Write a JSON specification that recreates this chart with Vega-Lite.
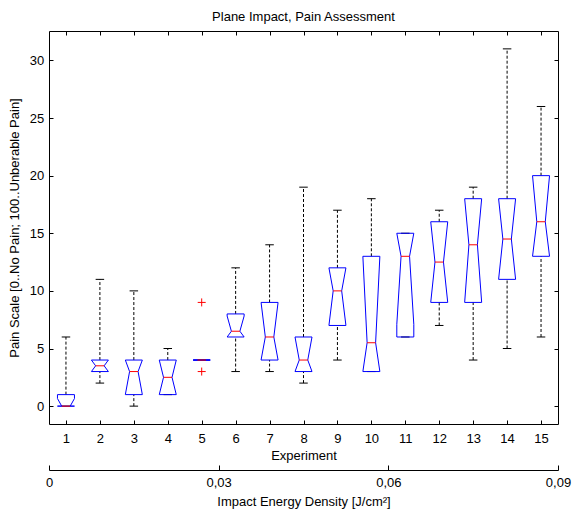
{
  "$schema": "https://vega.github.io/schema/vega-lite/v6.json",
  "width": 509,
  "height": 393,
  "autosize": {"type": "none"},
  "padding": {"left": 49, "top": 31, "right": 16, "bottom": 89},
  "background": "white",
  "title": {"text": "Plane Impact, Pain Assessment", "font": "Liberation Sans", "fontSize": 13, "fontWeight": "normal", "color": "#000", "anchor": "middle", "baseline": "alphabetic", "offset": -3.3},
  "config": {
    "view": {"stroke": "#000", "strokeWidth": 1},
    "axis": {"labelFont": "Liberation Sans", "labelFontSize": 13, "labelColor": "#000", "titleFont": "Liberation Sans", "titleFontSize": 13, "titleFontWeight": "normal", "titleColor": "#000", "tickColor": "#000", "domainColor": "#000", "grid": false, "labelFlush": false, "labelOverlap": false}
  },
  "datasets": {
    "boxes": [
      {"exp": 1, "lo": 0, "q1": 0, "med": 0, "q3": 1, "hi": 6, "nlo": 0, "nhi": 0.66},
      {"exp": 2, "lo": 2, "q1": 3, "med": 3.5, "q3": 4, "hi": 11, "nlo": 3, "nhi": 4},
      {"exp": 3, "lo": 0, "q1": 1, "med": 3, "q3": 4, "hi": 10, "nlo": 1, "nhi": 4},
      {"exp": 4, "lo": 1, "q1": 1, "med": 2.5, "q3": 4, "hi": 5, "nlo": 1, "nhi": 4},
      {"exp": 5, "lo": 4, "q1": 4, "med": 4, "q3": 4, "hi": 4, "nlo": 4, "nhi": 4},
      {"exp": 6, "lo": 3, "q1": 6, "med": 6.5, "q3": 8, "hi": 12, "nlo": 6, "nhi": 7.82},
      {"exp": 7, "lo": 3, "q1": 4, "med": 6, "q3": 9, "hi": 14, "nlo": 4, "nhi": 9},
      {"exp": 8, "lo": 2, "q1": 3, "med": 4, "q3": 6, "hi": 19, "nlo": 3, "nhi": 6},
      {"exp": 9, "lo": 4, "q1": 7, "med": 10, "q3": 12, "hi": 17, "nlo": 7, "nhi": 12},
      {"exp": 10, "lo": 3, "q1": 3, "med": 5.5, "q3": 13, "hi": 18, "nlo": 3, "nhi": 13},
      {"exp": 11, "lo": 6, "q1": 6, "med": 13, "q3": 15, "hi": 15, "nlo": 7.1, "nhi": 15},
      {"exp": 12, "lo": 7, "q1": 9, "med": 12.5, "q3": 16, "hi": 17, "nlo": 9, "nhi": 16},
      {"exp": 13, "lo": 4, "q1": 9, "med": 14, "q3": 18, "hi": 19, "nlo": 9, "nhi": 18},
      {"exp": 14, "lo": 5, "q1": 11, "med": 14.5, "q3": 18, "hi": 31, "nlo": 11, "nhi": 18},
      {"exp": 15, "lo": 6, "q1": 13, "med": 16, "q3": 20, "hi": 26, "nlo": 13, "nhi": 20}
    ],
    "outliers": [
      {"exp": 5, "v": 9},
      {"exp": 5, "v": 3}
    ],
    "energy": [
      {"e": 0},
      {"e": 0.09}
    ]
  },
  "resolve": {"scale": {"x": "independent"}, "axis": {"x": "independent"}},
  "layer": [
    {
      "data": {"name": "boxes"},
      "resolve": {"axis": {"x": "independent", "y": "independent"}},
      "encoding": {
        "x": {"field": "exp", "type": "quantitative", "scale": {"domain": [0.5, 15.5], "nice": false, "zero": false}, "axis": null}
      },
      "layer": [
        {
          "mark": {"type": "rule", "color": "#000", "strokeWidth": 1, "strokeDash": [3, 2]},
          "encoding": {
            "x": {"field": "exp", "type": "quantitative", "scale": {"domain": [0.5, 15.5], "nice": false, "zero": false},
              "axis": {"orient": "bottom", "values": [1,2,3,4,5,6,7,8,9,10,11,12,13,14,15], "format": "d", "tickSize": -4, "labelPadding": 12.5, "domain": false, "title": "Experiment", "titlePadding": 4}},
            "y": {"field": "q3", "type": "quantitative", "scale": {"domain": [-1.55, 32.55], "nice": false, "zero": false},
              "axis": {"orient": "left", "values": [0,5,10,15,20,25,30], "format": "d", "tickSize": -4, "labelPadding": 9.3, "domain": false, "title": "Pain Scale [0..No Pain; 100..Unberable Pain]", "titlePadding": 8}},
            "y2": {"field": "hi"}
          }
        },
        {
          "mark": {"type": "rule", "color": "#000", "strokeWidth": 1, "strokeDash": [3, 2]},
          "encoding": {
            "x": {"field": "exp", "type": "quantitative", "scale": {"domain": [0.5, 15.5], "nice": false, "zero": false},
              "axis": {"orient": "top", "values": [1,2,3,4,5,6,7,8,9,10,11,12,13,14,15], "tickSize": -4, "labels": false, "domain": false, "title": null}},
            "y": {"field": "lo", "type": "quantitative", "scale": {"domain": [-1.55, 32.55], "nice": false, "zero": false},
              "axis": {"orient": "right", "values": [0,5,10,15,20,25,30], "tickSize": -4, "labels": false, "domain": false, "title": null}},
            "y2": {"field": "q1"}
          }
        },
        {
          "mark": {"type": "rule", "color": "#000", "strokeWidth": 1, "xOffset": -4.25, "x2Offset": 4.25},
          "encoding": {
            "x2": {"field": "exp"},
            "y": {"field": "hi", "type": "quantitative", "scale": {"domain": [-1.55, 32.55], "nice": false, "zero": false}, "axis": null}
          }
        },
        {
          "mark": {"type": "rule", "color": "#000", "strokeWidth": 1, "xOffset": -4.25, "x2Offset": 4.25},
          "encoding": {
            "x2": {"field": "exp"},
            "y": {"field": "lo", "type": "quantitative", "scale": {"domain": [-1.55, 32.55], "nice": false, "zero": false}, "axis": null}
          }
        },
        {
          "mark": {"type": "rule", "color": "#0000ff", "strokeWidth": 1, "xOffset": -8.5, "x2Offset": 8.5},
          "encoding": {
            "x2": {"field": "exp"},
            "y": {"field": "q3", "type": "quantitative", "scale": {"domain": [-1.55, 32.55], "nice": false, "zero": false}, "axis": null}
          }
        },
        {
          "mark": {"type": "rule", "color": "#0000ff", "strokeWidth": 1, "xOffset": -8.5, "x2Offset": 8.5},
          "encoding": {
            "x2": {"field": "exp"},
            "y": {"field": "q1", "type": "quantitative", "scale": {"domain": [-1.55, 32.55], "nice": false, "zero": false}, "axis": null}
          }
        },
        {
          "mark": {"type": "rule", "color": "#0000ff", "strokeWidth": 1, "xOffset": -8.5, "x2Offset": -8.5},
          "encoding": {
            "x2": {"field": "exp"},
            "y": {"field": "q3", "type": "quantitative", "scale": {"domain": [-1.55, 32.55], "nice": false, "zero": false}, "axis": null},
            "y2": {"field": "nhi"}
          }
        },
        {
          "mark": {"type": "rule", "color": "#0000ff", "strokeWidth": 1, "xOffset": 8.5, "x2Offset": 8.5},
          "encoding": {
            "x2": {"field": "exp"},
            "y": {"field": "q3", "type": "quantitative", "scale": {"domain": [-1.55, 32.55], "nice": false, "zero": false}, "axis": null},
            "y2": {"field": "nhi"}
          }
        },
        {
          "mark": {"type": "rule", "color": "#0000ff", "strokeWidth": 1, "xOffset": -8.5, "x2Offset": -4.25},
          "encoding": {
            "x2": {"field": "exp"},
            "y": {"field": "nhi", "type": "quantitative", "scale": {"domain": [-1.55, 32.55], "nice": false, "zero": false}, "axis": null},
            "y2": {"field": "med"}
          }
        },
        {
          "mark": {"type": "rule", "color": "#0000ff", "strokeWidth": 1, "xOffset": 8.5, "x2Offset": 4.25},
          "encoding": {
            "x2": {"field": "exp"},
            "y": {"field": "nhi", "type": "quantitative", "scale": {"domain": [-1.55, 32.55], "nice": false, "zero": false}, "axis": null},
            "y2": {"field": "med"}
          }
        },
        {
          "mark": {"type": "rule", "color": "#0000ff", "strokeWidth": 1, "xOffset": -4.25, "x2Offset": -8.5},
          "encoding": {
            "x2": {"field": "exp"},
            "y": {"field": "med", "type": "quantitative", "scale": {"domain": [-1.55, 32.55], "nice": false, "zero": false}, "axis": null},
            "y2": {"field": "nlo"}
          }
        },
        {
          "mark": {"type": "rule", "color": "#0000ff", "strokeWidth": 1, "xOffset": 4.25, "x2Offset": 8.5},
          "encoding": {
            "x2": {"field": "exp"},
            "y": {"field": "med", "type": "quantitative", "scale": {"domain": [-1.55, 32.55], "nice": false, "zero": false}, "axis": null},
            "y2": {"field": "nlo"}
          }
        },
        {
          "mark": {"type": "rule", "color": "#0000ff", "strokeWidth": 1, "xOffset": -8.5, "x2Offset": -8.5},
          "encoding": {
            "x2": {"field": "exp"},
            "y": {"field": "nlo", "type": "quantitative", "scale": {"domain": [-1.55, 32.55], "nice": false, "zero": false}, "axis": null},
            "y2": {"field": "q1"}
          }
        },
        {
          "mark": {"type": "rule", "color": "#0000ff", "strokeWidth": 1, "xOffset": 8.5, "x2Offset": 8.5},
          "encoding": {
            "x2": {"field": "exp"},
            "y": {"field": "nlo", "type": "quantitative", "scale": {"domain": [-1.55, 32.55], "nice": false, "zero": false}, "axis": null},
            "y2": {"field": "q1"}
          }
        },
        {
          "mark": {"type": "rule", "color": "#ff0000", "strokeWidth": 1, "xOffset": -4.25, "x2Offset": 4.25},
          "encoding": {
            "x2": {"field": "exp"},
            "y": {"field": "med", "type": "quantitative", "scale": {"domain": [-1.55, 32.55], "nice": false, "zero": false}, "axis": null}
          }
        },
        {
          "data": {"name": "outliers"},
          "mark": {"type": "point", "shape": "M-1,0H1M0,-1V1", "filled": false, "stroke": "#ff0000", "strokeWidth": 1, "size": 64, "opacity": 1},
          "encoding": {
            "y": {"field": "v", "type": "quantitative", "scale": {"domain": [-1.55, 32.55], "nice": false, "zero": false}, "axis": null}
          }
        }
      ]
    },
    {
      "data": {"name": "energy"},
      "mark": {"type": "rule", "strokeOpacity": 0},
      "encoding": {
        "x": {"field": "e", "type": "quantitative", "scale": {"domain": [0, 0.09], "nice": false, "zero": false},
          "axis": {"orient": "bottom", "offset": 46, "values": [0, 0.03, 0.06, 0.09], "labelExpr": "datum.value == 0 ? '0' : replace(format(datum.value, '.2f'), '.', ',')", "tickSize": -5, "labelPadding": 11.8, "domain": true, "title": "Impact Energy Density [J/cm²]", "titlePadding": 6}}
      }
    }
  ]
}
